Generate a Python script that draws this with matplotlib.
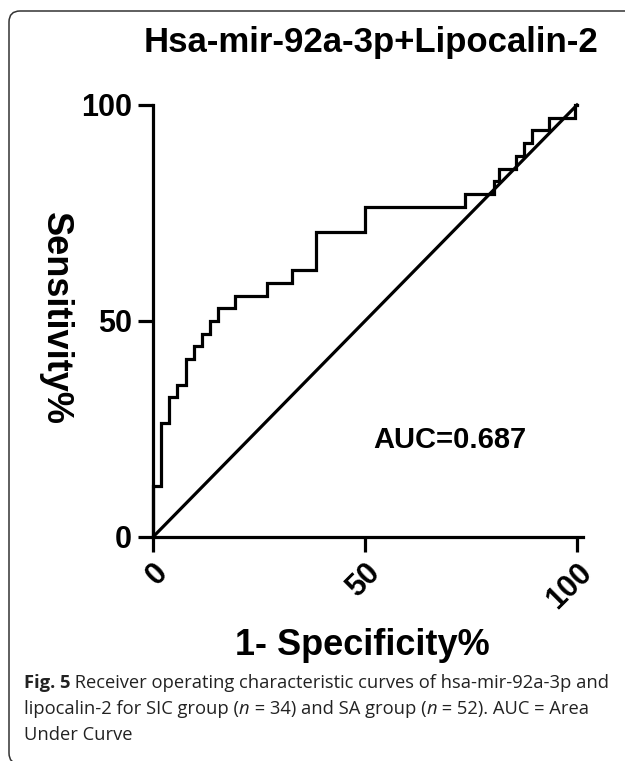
import matplotlib
matplotlib.use("Agg")
import matplotlib.pyplot as plt
from matplotlib.patches import FancyBboxPatch
from matplotlib.transforms import IdentityTransform

# ROC staircase: start of each horizontal run (1-specificity %, sensitivity %)
fpr = [0, 0, 1.92, 3.85, 5.77, 7.69, 9.62, 11.54, 13.46, 15.38, 19.23, 26.92,
       32.69, 38.46, 50.0, 73.5, 80.5, 81.5, 85.5, 87.5, 89.5, 93.5, 99.5, 100]
tpr = [0, 11.76, 26.47, 32.35, 35.29, 41.18, 44.12, 47.06, 50.0, 52.94, 55.88,
       58.82, 61.76, 70.59, 76.47, 79.41, 82.35, 85.29, 88.24, 91.18, 94.12,
       97.06, 100, 100]
ref_line = [0, 100]
ticks = [0, 50, 100]
auc_text = "AUC=0.687"

W, H = 625, 761
plt.rcParams['font.family'] = ['Liberation Sans', 'DejaVu Sans']
fig = plt.figure(figsize=(W / 100, H / 100), dpi=100)


def fx(x):
    return x / W


def fy(y):
    return 1 - y / H


# axes: x 0 -> px 153, 100 -> px 577 ; y 0 -> px 537, 100 -> px 105
x0, x1 = 153, 577
y0, y1 = 537, 105
xmax = 101.4
ax = fig.add_axes([fx(x0), fy(y0), (x1 - x0) / 100 * xmax / W, (y0 - y1) / H])
ax.set_xlim(0, xmax)
ax.set_ylim(0, 100)

lw = 2.3
ax.plot(fpr, tpr, drawstyle='steps-post', color='black', lw=lw, clip_on=False,
        solid_joinstyle='miter')
ax.plot(ref_line, ref_line, color='black', lw=lw, clip_on=False)

for s in ['top', 'right']:
    ax.spines[s].set_visible(False)
for s in ['left', 'bottom']:
    ax.spines[s].set_linewidth(lw)
ax.spines['left'].set_bounds(0, 100)

ax.set_xticks(ticks)
ax.set_yticks(ticks)
ax.tick_params(length=11, width=lw, labelsize=22, pad=4)
for lab in ax.get_yticklabels():
    lab.set_fontweight('bold')
ax.set_xticklabels([str(t) for t in ticks], rotation=45, ha='right', va='top',
                   rotation_mode='anchor', fontweight='bold')

ax.text(52, 20.5, auc_text, fontsize=21, fontweight='bold', ha='left', va='baseline')

fig.text(fx(371), fy(52), "Hsa-mir-92a-3p+Lipocalin-2", fontsize=25,
         fontweight='bold', ha='center', va='baseline')
fig.text(fx(55), fy(318), "Sensitivity%", fontsize=26, fontweight='bold',
         rotation=-90, ha='center', va='center')
fig.text(fx(362), fy(655), "1- Specificity%", fontsize=26, fontweight='bold',
         ha='center', va='baseline')

# rounded frame around the figure panel
frame = FancyBboxPatch((9, -3), 650, H - 11 + 3, boxstyle="round,pad=0,rounding_size=11",
                       transform=IdentityTransform(), fill=False, edgecolor='#333333',
                       lw=1.1)
fig.add_artist(frame)

# caption with mixed styles
cap_lines = [
    [("Fig. 5", 'bold', 'normal'),
     (" Receiver operating characteristic curves of hsa-mir-92a-3p and", 'normal', 'normal')],
    [("lipocalin-2 for SIC group (", 'normal', 'normal'), ("n", 'normal', 'italic'),
     (" = 34) and SA group (", 'normal', 'normal'), ("n", 'normal', 'italic'),
     (" = 52). AUC = Area", 'normal', 'normal')],
    [("Under Curve", 'normal', 'normal')],
]
cap_y = [688, 714, 740]
renderer = fig.canvas.get_renderer()
for segs, yb in zip(cap_lines, cap_y):
    xpos = 24
    for txt, wt, st in segs:
        t = fig.text(fx(xpos), fy(yb), txt, fontsize=13.2, fontweight=wt, fontstyle=st,
                     family=['Open Sans', 'DejaVu Sans'], ha='left', va='baseline',
                     color='#222222')
        bb = t.get_window_extent(renderer)
        xpos += bb.width

fig.savefig("out.png", dpi=100)
